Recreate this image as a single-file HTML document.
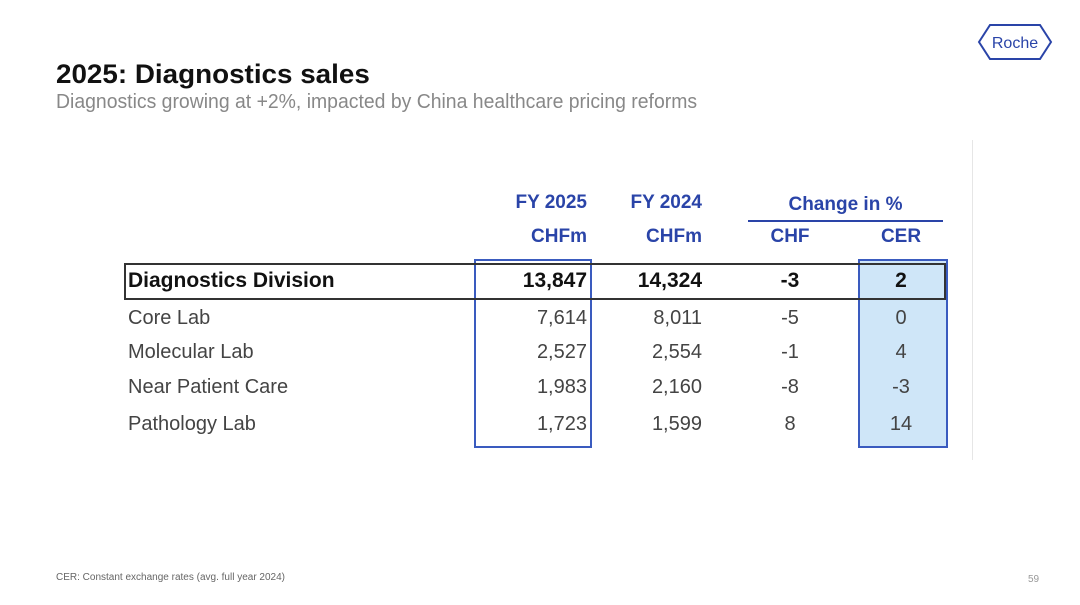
<!DOCTYPE html>
<html><head><meta charset="utf-8"><style>
body{margin:0;width:1080px;height:605px;background:#fff;position:relative;overflow:hidden;font-family:"Liberation Sans","DejaVu Sans",sans-serif}
.a{position:absolute;white-space:nowrap}
.h{color:#2a44a8;font-weight:bold;font-size:19px}
.n{font-size:20px;color:#444}
.b{font-size:21px;font-weight:bold;color:#111}
.r{text-align:right}.c{text-align:center}
</style></head><body>
<div class="a" style="left:56px;top:59px;font-size:27px;font-weight:bold;color:#111;transform:scaleX(1.03);transform-origin:left">2025: Diagnostics sales</div>
<div class="a" style="left:56px;top:91px;font-size:20px;color:#888;transform:scaleX(0.97);transform-origin:left">Diagnostics growing at +2%, impacted by China healthcare pricing reforms</div>
<svg class="a" style="left:976px;top:23px" width="78" height="38"><polygon points="3,19 14,2 64,2 75,19 64,36 14,36" fill="none" stroke="#2a44a8" stroke-width="2"/><text x="39" y="25" text-anchor="middle" font-size="16" fill="#2a44a8" font-family="Liberation Sans">Roche</text></svg>
<div class="a" style="left:972px;top:140px;width:1px;height:320px;background:#e6e6e6"></div>
<div class="a" style="left:858px;top:259px;width:86px;height:185px;background:#cfe6f8;border:2px solid #3a5bbf"></div>
<div class="a" style="left:474px;top:259px;width:114px;height:185px;border:2px solid #3a5bbf"></div>
<div class="a" style="left:124px;top:263px;width:818px;height:33px;border:2px solid #333"></div>
<div class="a" style="left:748px;top:220px;width:195px;height:2px;background:#2a44a8"></div>
<div id="t"></div>
<div class="a" style="left:56px;top:572px;font-size:10px;color:#666">CER: Constant exchange rates (avg. full year 2024)</div>
<div class="a" style="left:1028px;top:574px;font-size:10px;color:#999">59</div>
<script>
const headers1=["FY 2025","FY 2024","Change in %"];
const headers2=["CHFm","CHFm","CHF","CER"];
const labels=["Diagnostics Division","Core Lab","Molecular Lab","Near Patient Care","Pathology Lab"];
const fy2025=["13,847","7,614","2,527","1,983","1,723"];
const fy2024=["14,324","8,011","2,554","2,160","1,599"];
const chf=["-3","-5","-1","-8","8"];
const cer=["2","0","4","-3","14"];
const rowY=[281,319,353,388,425];
const t=document.getElementById('t');
function add(txt,cls,style,name){const d=document.createElement('div');d.className='a '+cls;d.textContent=txt;d.style.cssText=style;


t.appendChild(d);}
add(headers1[0],'h r','left:470px;width:117px;top:192px','header-fy2025');
add(headers1[1],'h r','left:590px;width:112px;top:192px','header-fy2024');
add(headers1[2],'h c','left:748px;width:195px;top:194px','header-change');
add(headers2[0],'h r','left:470px;width:117px;top:226px','header-unit-2025');
add(headers2[1],'h r','left:590px;width:112px;top:226px','header-unit-2024');
add(headers2[2],'h c','left:750px;width:80px;top:226px','header-chf');
add(headers2[3],'h c','left:860px;width:82px;top:226px','header-cer');
labels.forEach((l,i)=>{const c=i==0?'b':'n';const top=(rowY[i]-12)+'px';
add(l,c,'left:128px;top:'+top,'row-label');
add(fy2025[i],c+' r','left:470px;width:117px;top:'+top,'fy2025-value');
add(fy2024[i],c+' r','left:590px;width:112px;top:'+top,'fy2024-value');
add(chf[i],c+' c','left:750px;width:80px;top:'+top,'chf-change');
add(cer[i],c+' c','left:860px;width:82px;top:'+top,'cer-change');});
</script>
</body></html>
